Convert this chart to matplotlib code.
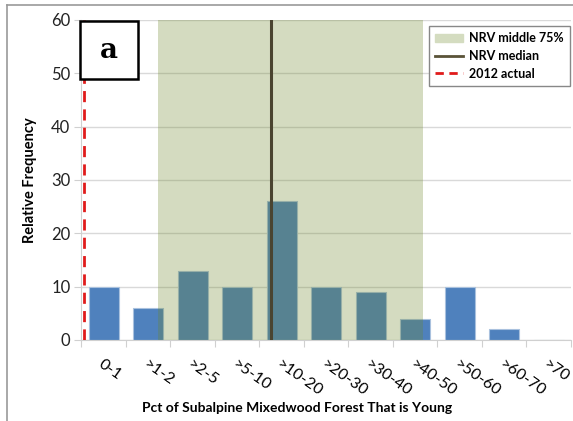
import matplotlib.pyplot as plt
from matplotlib.patches import Rectangle
from matplotlib.lines import Line2D

# data
categories = ['0-1', '>1-2', '>2-5', '>5-10', '>10-20', '>20-30', '>30-40',
              '>40-50', '>50-60', '>60-70', '>70']
frequency = [10, 6, 13, 10, 26, 10, 9, 4, 10, 2, 0]
nrv_low = 1.23     # middle 75% range, in category units
nrv_high = 7.18
nrv_median = 3.75
actual_2012 = -0.45

plt.rcParams['font.family'] = ['Lato', 'DejaVu Sans']

fig = plt.figure(figsize=(5.73, 4.21), dpi=100)
ax = fig.add_axes([0.1422, 0.1924, 0.8543, 0.7601])

x = list(range(len(categories)))
ax.bar(x, frequency, width=0.67, color='#4f81bd', edgecolor='#a9c1de', linewidth=0.8, zorder=2)
ax.axvspan(nrv_low, nrv_high, color='#6b8626', alpha=0.29, lw=0, zorder=3)
ax.axvline(nrv_median, color='#4a4430', lw=2.2, zorder=4)
ax.axvline(actual_2012, color='#e01b1b', lw=2, ls=(0, (4, 2.6)), zorder=4)

ax.set_xlim(-0.5, len(categories) - 0.5)
ax.set_ylim(0, 60)
ax.set_yticks(range(0, 61, 10))
ax.yaxis.grid(True, color='#d9d9d9', lw=1)
ax.set_axisbelow(True)
ax.set_xticks([i - 0.5 for i in range(len(categories) + 1)])
ax.set_xticklabels([])
ax.set_xticks(x, minor=True)
ax.set_xticklabels(categories, minor=True, rotation=-35, ha='left', va='top',
                   rotation_mode='anchor', fontsize=11.5)
ax.tick_params(axis='x', which='minor', length=0, pad=12)
ax.tick_params(axis='x', which='major', length=5, color='#d0d0d0', direction='out')
ax.tick_params(axis='y', length=5, color='#d0d0d0', labelsize=12, pad=3, labelcolor='#222222')
for s in ['top', 'right']:
    ax.spines[s].set_visible(False)
ax.spines['left'].set_color('#d0d0d0')
ax.spines['bottom'].set_color('#d0d0d0')

ax.set_ylabel('Relative Frequency', fontsize=10.5, fontweight='bold', labelpad=10)
ax.set_xlabel('Pct of Subalpine Mixedwood Forest That is Young', fontsize=10,
              fontweight='bold', va='center')
ax.xaxis.set_label_coords(0.44, -0.213)

handles = [Rectangle((0, 0), 1, 1, color='#d4dcc0'),
           Line2D([], [], color='#5a5338', lw=2),
           Line2D([], [], color='#e01b1b', lw=2, ls=(0, (3, 2)))]
leg = ax.legend(handles, ['NRV middle 75%', 'NRV median', '2012 actual'],
                loc='upper right', bbox_to_anchor=(1.01, 1.0), fancybox=False,
                edgecolor='#888888', framealpha=1, prop={'weight': 'bold', 'size': 9},
                handlelength=2.2, borderpad=0.5, labelspacing=0.45, handletextpad=0.5)
leg.set_zorder(10)

# panel label box
fig.patches.append(Rectangle((0.1396, 0.8124), 0.1012, 0.1376, transform=fig.transFigure,
                             facecolor='white', edgecolor='black', lw=1.8, zorder=20))
fig.text(0.19, 0.881, 'a', family='DejaVu Serif', fontweight='bold', fontsize=20,
         ha='center', va='center', zorder=21)

# outer frame (left and top edges visible)
fig.add_artist(Line2D([0.0122, 0.0122], [0, 0.988], color='#999999', lw=1.2,
                      transform=fig.transFigure))
fig.add_artist(Line2D([0.0122, 1.0], [0.988, 0.988], color='#999999', lw=1.2,
                      transform=fig.transFigure))

fig.savefig('out.png', dpi=100)
